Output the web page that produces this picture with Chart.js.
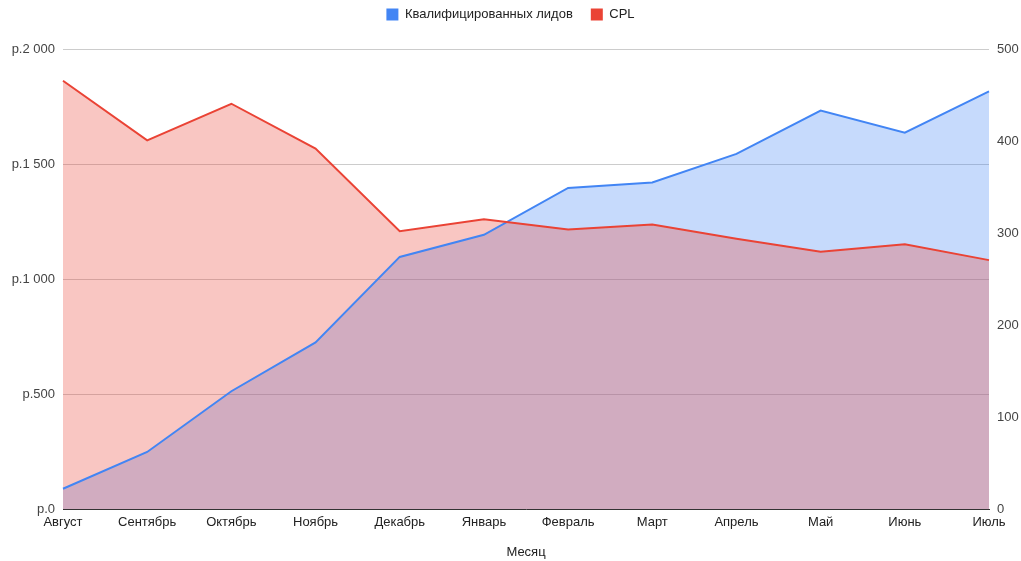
<!DOCTYPE html>
<html>
<head>
<meta charset="utf-8">
<script src="https://cdn.jsdelivr.net/npm/chart.js@4"></script>
<style>
  html, body { margin: 0; padding: 0; background: #fff; }
  #wrap { width: 1021px; height: 561px; }
</style>
</head>
<body>
<div id="wrap"><canvas id="chart"></canvas></div>
<script>
// Months on the x axis
const months = ['Август', 'Сентябрь', 'Октябрь', 'Ноябрь', 'Декабрь', 'Январь',
  'Февраль', 'Март', 'Апрель', 'Май', 'Июнь', 'Июль'];

// Qualified leads (right axis)
const leads = [22, 62, 128, 181, 274, 298, 349, 355, 386, 433, 409, 454];

// Cost per lead in roubles (left axis)
const cpl = [1862, 1603, 1762, 1567, 1208, 1260, 1215, 1237, 1175, 1118, 1151, 1082];

const leftTicks = [0, 500, 1000, 1500, 2000];
const rightTicks = [0, 100, 200, 300, 400, 500];

const textFont = { family: 'Arial, "Liberation Sans", sans-serif', size: 13 };

function rub(v) {
  // 2000 -> "р.2 000"
  return 'р.' + String(v).replace(/\B(?=(\d{3})+(?!\d))/g, ' ');
}

// give the legend a fixed height so the plot starts where the original does
const legendHeight = {
  id: 'legendHeight',
  beforeInit(chart) {
    const fit = chart.legend.fit;
    chart.legend.fit = function () {
      fit.call(this);
      this.height = 59;
    };
  }
};

const ctx = document.getElementById('chart').getContext('2d');
new Chart(ctx, {
  type: 'line',
  data: {
    labels: months,
    datasets: [
      {
        label: 'Квалифицированных лидов',
        data: leads,
        yAxisID: 'yRight',
        order: 1,
        borderColor: '#4285f4',
        backgroundColor: 'rgba(66,133,244,0.3)',
        borderWidth: 2,
        pointRadius: 0,
        fill: 'origin',
        tension: 0
      },
      {
        label: 'CPL',
        data: cpl,
        yAxisID: 'yLeft',
        order: 0,
        borderColor: '#ea4335',
        backgroundColor: 'rgba(234,67,53,0.3)',
        borderWidth: 2,
        pointRadius: 0,
        fill: 'origin',
        tension: 0
      }
    ]
  },
  plugins: [legendHeight],
  options: {
    responsive: true,
    maintainAspectRatio: false,
    animation: false,
    layout: { padding: { top: -10, right: 0, bottom: 0, left: 0 } },
    plugins: {
      filler: { drawTime: 'beforeDatasetsDraw' },
      legend: {
        position: 'top',
        labels: {
          boxWidth: 12,
          boxHeight: 12,
          padding: 18,
          color: '#222',
          font: textFont,
          generateLabels: (chart) => chart.data.datasets.map((ds, i) => ({
            text: ds.label,
            fillStyle: ds.borderColor,
            strokeStyle: ds.borderColor,
            lineWidth: 0,
            fontColor: '#222',
            datasetIndex: i,
            hidden: false
          }))
        }
      },
      tooltip: { enabled: false }
    },
    scales: {
      x: {
        offset: false,
        grid: { display: false, drawTicks: false },
        border: { display: true, color: '#333', width: 1 },
        ticks: { color: '#222', font: textFont, maxRotation: 0, autoSkip: false, padding: 6 },
        title: { display: true, text: 'Месяц', color: '#222', font: textFont, padding: { top: 4, bottom: 1 } },
        afterFit: (axis) => { axis.height = 52; }
      },
      yLeft: {
        position: 'left',
        min: 0,
        max: 2000,
        afterBuildTicks: (axis) => { axis.ticks = leftTicks.map(v => ({ value: v })); },
        grid: { color: '#cccccc', drawTicks: false },
        border: { display: false },
        ticks: { color: '#444', font: textFont, padding: 8, callback: (v) => rub(v) },
        afterFit: (axis) => { axis.width = 63; }
      },
      yRight: {
        position: 'right',
        min: 0,
        max: 500,
        afterBuildTicks: (axis) => { axis.ticks = rightTicks.map(v => ({ value: v })); },
        grid: { display: false, drawTicks: false },
        border: { display: false },
        ticks: { color: '#444', font: textFont, padding: 8 },
        afterFit: (axis) => { axis.width = 32; }
      }
    }
  }
});
</script>
</body>
</html>
